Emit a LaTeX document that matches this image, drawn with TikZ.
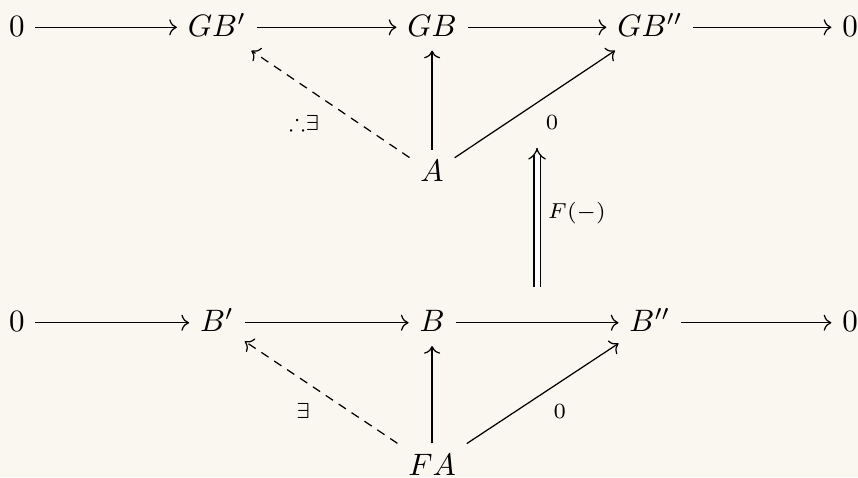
\documentclass[tikz,border=0pt]{standalone}
\usepackage{amsmath,amssymb}
\usepackage{tikz}
\usetikzlibrary{arrows.meta}
\definecolor{paper}{RGB}{250,247,240}

\begin{document}
\begin{tikzpicture}[
  obj/.style={text height=1.6ex,text depth=.25ex},
  lbl/.style={font=\scriptsize},
  map/.style={draw,-{Computer Modern Rightarrow}},
  lift/.style={map,dash pattern=on 2.8pt off 2.2pt},
  nat/.style={draw,double,double distance=1.6pt,-{Implies},shorten >=2.5pt}]
\fill[paper] (0,0) rectangle (9.73,5.41);
\useasboundingbox (0,0) rectangle (9.73,5.41);
\node[obj] (tl) at (0.19,5.1) {$0$};
\node[obj] (GBp) at (2.46,5.1) {$GB'$};
\node[obj] (GB) at (4.9,5.1) {$GB$};
\node[obj] (GBpp) at (7.37,5.1) {$GB''$};
\node[obj] (tr) at (9.64,5.1) {$0$};
\node[obj] (A) at (4.9,3.45) {$A$};
\node[obj] (bl) at (0.19,1.75) {$0$};
\node[obj] (Bp) at (2.46,1.75) {$B'$};
\node[obj] (B) at (4.9,1.75) {$B$};
\node[obj] (Bpp) at (7.37,1.75) {$B''$};
\node[obj] (br) at (9.64,1.75) {$0$};
\node[obj] (FA) at (4.9,0.12) {$FA$};
\coordinate (s) at (6.09,2.16);
\draw[map] (tl) -- (GBp);
\draw[map] (GBp) -- (GB);
\draw[map] (GB) -- (GBpp);
\draw[map] (GBpp) -- (tr);
\draw[map] (A) -- (GB);
\draw[map] (A) -- (GBpp) node[lbl,midway,below right] (z) {$0$};
\draw[lift] (A) -- (GBp) node[lbl,midway,below left] {${\therefore}\exists$};
\draw[map] (bl) -- (Bp);
\draw[map] (Bp) -- (B);
\draw[map] (B) -- (Bpp);
\draw[map] (Bpp) -- (br);
\draw[map] (FA) -- (B);
\draw[map] (FA) -- (Bpp) node[lbl,midway,below right] {$0$};
\draw[lift] (FA) -- (Bp) node[lbl,midway,below left] {$\exists$};
\draw[nat] (s) -- (s |- z.south) node[lbl,midway,right] {$F(-)$};
\end{tikzpicture}
\end{document}
